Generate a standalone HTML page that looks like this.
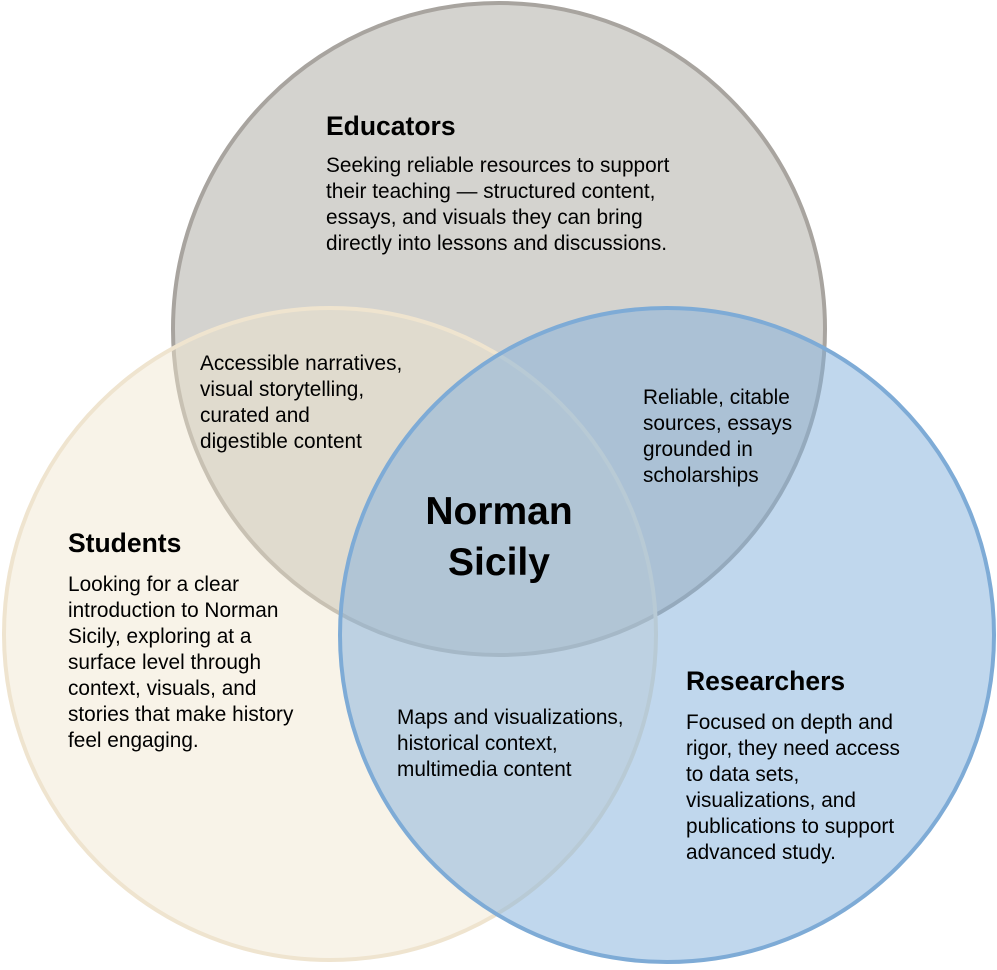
<!DOCTYPE html>
<html><head><meta charset="utf-8"><style>
html,body{margin:0;padding:0;background:#fff;}
svg text{font-family:"Liberation Sans",sans-serif;fill:#000;}
.b{font-size:20.8px;}
.h{font-size:26.5px;font-weight:bold;}
</style></head><body>
<svg width="997" height="965" viewBox="0 0 997 965" xmlns="http://www.w3.org/2000/svg">
<circle cx="499" cy="329" r="326" fill="#d4d3cf" stroke="#a8a49f" stroke-width="4"/>
<circle cx="330" cy="634" r="326" fill="rgba(240,228,205,0.45)" stroke="#efe4cf" stroke-width="4"/>
<circle cx="667" cy="635" r="327" fill="rgba(130,175,220,0.5)" stroke="#7eabd6" stroke-width="4"/>
<text class="h" x="326" y="135">Educators</text>
<text class="b" x="326" y="172">Seeking reliable resources to support</text>
<text class="b" x="326" y="198">their teaching — structured content,</text>
<text class="b" x="326" y="224">essays, and visuals they can bring</text>
<text class="b" x="326" y="250">directly into lessons and discussions.</text>
<text class="b" x="200" y="370">Accessible narratives,</text>
<text class="b" x="200" y="396">visual storytelling,</text>
<text class="b" x="200" y="422">curated and</text>
<text class="b" x="200" y="448">digestible content</text>
<text class="b" x="643" y="404">Reliable, citable</text>
<text class="b" x="643" y="430">sources, essays</text>
<text class="b" x="643" y="456">grounded in</text>
<text class="b" x="643" y="482">scholarships</text>
<text x="499" y="524" text-anchor="middle" style="font-size:39px;font-weight:bold">Norman</text>
<text x="499" y="575" text-anchor="middle" style="font-size:39px;font-weight:bold">Sicily</text>
<text class="h" x="68" y="552">Students</text>
<text class="b" x="68" y="591">Looking for a clear</text>
<text class="b" x="68" y="617">introduction to Norman</text>
<text class="b" x="68" y="643">Sicily, exploring at a</text>
<text class="b" x="68" y="669">surface level through</text>
<text class="b" x="68" y="695">context, visuals, and</text>
<text class="b" x="68" y="721">stories that make history</text>
<text class="b" x="68" y="747">feel engaging.</text>
<text class="b" x="397" y="724">Maps and visualizations,</text>
<text class="b" x="397" y="750">historical context,</text>
<text class="b" x="397" y="776">multimedia content</text>
<text class="h" x="686" y="690">Researchers</text>
<text class="b" x="686" y="729">Focused on depth and</text>
<text class="b" x="686" y="755">rigor, they need access</text>
<text class="b" x="686" y="781">to data sets,</text>
<text class="b" x="686" y="807">visualizations, and</text>
<text class="b" x="686" y="833">publications to support</text>
<text class="b" x="686" y="859">advanced study.</text>
</svg>
</body></html>
